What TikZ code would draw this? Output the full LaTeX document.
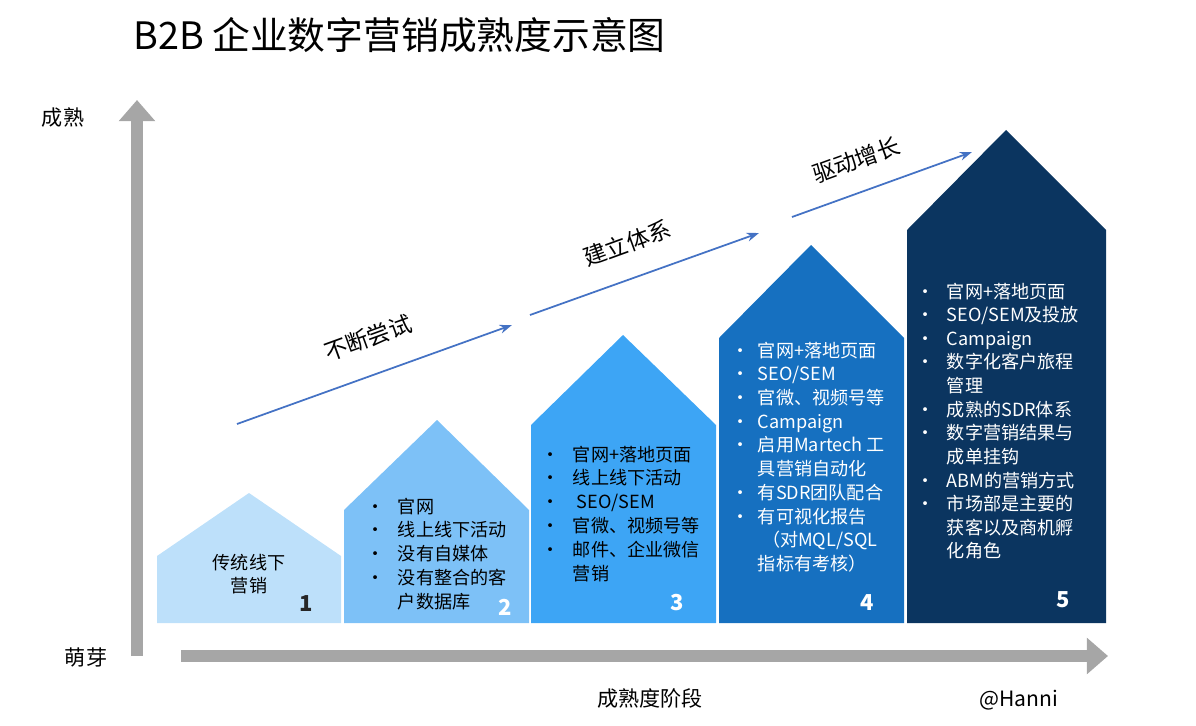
\documentclass[tikz,border=0pt]{standalone}
\usepackage{fontspec}
\setmainfont{Noto Sans CJK SC}
\usetikzlibrary{arrows.meta}
\definecolor{c1}{HTML}{BDE0FA}
\definecolor{c2}{HTML}{7DC1F7}
\definecolor{c3}{HTML}{3DA5F5}
\definecolor{c4}{HTML}{1670C0}
\definecolor{c5}{HTML}{0B3560}
\definecolor{axg}{HTML}{A6A6A6}
\definecolor{arb}{HTML}{4472C4}
\newcommand{\lst}[1]{{\fontsize{10.3}{13.6}\selectfont\begin{tabular}[t]{@{}l@{\hspace{0.27cm}}l@{}}#1\end{tabular}}}
\begin{document}
\begin{tikzpicture}[x=0.02cm,y=-0.02cm,
  lbl/.style={font=\fontsize{10.3}{13.5}\selectfont,inner sep=0},
  num/.style={font=\fontsize{12.5}{14}\selectfont\bfseries,inner sep=0},
  growth/.style={-{Stealth[length=7pt,width=5pt]},arb,line width=1pt},
  axis/.style={axg,line width=7pt,-{Triangle[length=12pt,width=20pt]}}]
\useasboundingbox (0,0) rectangle (1196,726);
\fill[c1] (157,623) -- (157,556) -- (249,493) -- (341,556) -- (341,623) -- cycle;
\fill[c2] (344,623) -- (344,510) -- (437,420) -- (529,510) -- (529,623) -- cycle;
\fill[c3] (531,623) -- (531,425) -- (623,335) -- (716,425) -- (716,623) -- cycle;
\fill[c4] (719,623) -- (719,338) -- (811,245) -- (904,338) -- (904,623) -- cycle;
\fill[c5] (907,623) -- (907,230) -- (1006,130) -- (1106,230) -- (1106,623) -- cycle;
\coordinate (vb) at (137,656); \coordinate (vt) at (137,100);
\coordinate (hl) at (181,656); \coordinate (hr) at (1108,656);
\draw[axis] (vb) -- (vt);
\draw[axis] (hl) -- (hr);
\coordinate (a1) at (237,424); \coordinate (a2) at (512,325);
\coordinate (b1) at (530,315); \coordinate (b2) at (759,233);
\coordinate (d1) at (792,217); \coordinate (d2) at (972,152);
\draw[growth] (a1) -- (a2);
\draw[growth] (b1) -- (b2);
\draw[growth] (d1) -- (d2);
\node[lbl,rotate=20] (t1) at (368,338) {\fontsize{13}{15}\selectfont 不断尝试};
\node[lbl,rotate=20] (t2) at (627,243) {\fontsize{13}{15}\selectfont 建立体系};
\node[lbl,rotate=20] (t3) at (856,160) {\fontsize{13}{15}\selectfont 驱动增长};
\node[anchor=west,inner sep=0,font=\fontsize{21.5}{24}\selectfont] (title) at (133,35) {B2B 企业数字营销成熟度示意图};
\node[lbl,font=\fontsize{12}{14}\selectfont] (m1) at (63,118) {成熟};
\node[lbl,font=\fontsize{12}{14}\selectfont] (m2) at (86,657) {萌芽};
\node[lbl,font=\fontsize{12}{14}\selectfont] (m3) at (650,698) {成熟度阶段};
\node[lbl,font=\fontsize{12}{14}\selectfont] (m4) at (1019,700) {@Hanni};
\node[lbl,align=center] (s1) at (249,574) {传统线下\\营销};
\node[anchor=base west,inner sep=0] (l2) at (366,513) {\lst{•&官网\\•&线上线下活动\\•&没有自媒体\\•&没有整合的客\\&户数据库}};
\node[anchor=base west,inner sep=0] (l3) at (541,461) {\lst{•&官网+落地页面\\•&线上线下活动\\•&\ SEO/SEM\\•&官微、视频号等\\•&邮件、企业微信\\&营销}};
\node[anchor=base west,inner sep=0,text=white] (l4) at (731,357) {\fontsize{10.3}{13.5}\selectfont\begin{tabular}[t]{@{}l@{\hspace{0.17cm}}l@{}}•&官网+落地页面\\•&SEO/SEM\\•&官微、视频号等\\•&Campaign\\•&启用Martech 工\\&具营销自动化\\•&有SDR团队配合\\•&有可视化报告\\&\ （对MQL/SQL\\&指标有考核）\end{tabular}};
\node[anchor=base west,inner sep=0,text=white] (l5) at (916,298) {\fontsize{10.3}{13.45}\selectfont\begin{tabular}[t]{@{}l@{\hspace{0.25cm}}l@{}}•&官网+落地页面\\•&SEO/SEM及投放\\•&Campaign\\•&数字化客户旅程\\&管理\\•&成熟的SDR体系\\•&数字营销结果与\\&成单挂钩\\•&ABM的营销方式\\•&市场部是主要的\\&获客以及商机孵\\&化角色\end{tabular}};
\node[num,text=black!85] (n1) at (306,604) {1};
\node[num,text=white] (n2) at (505,607) {2};
\node[num,text=white] (n3) at (677,603) {3};
\node[num,text=white] (n4) at (867,603) {4};
\node[num,text=white] (n5) at (1063,600) {5};
\end{tikzpicture}
\end{document}
